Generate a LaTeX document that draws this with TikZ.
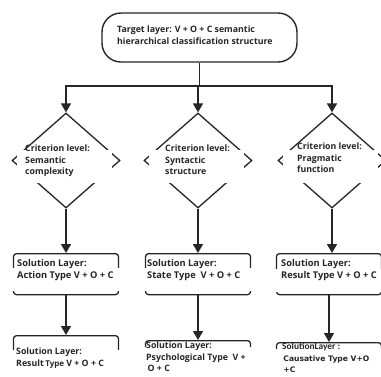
\documentclass[tikz,border=0pt]{standalone}
\usepackage{fontspec}
\newfontfamily\boxfont{Open Sans}
\newfontfamily\narrowfont{Carlito}
\newfontfamily\widefont{DejaVu Sans}
\usetikzlibrary{shapes.geometric, arrows.meta, positioning, calc}

\tikzset{
  flow/.style={line width=1.6pt, draw=black!85},
  flowarrow/.style={flow, -{Triangle[width=10pt,length=9pt]}},
  goalbox/.style={draw=black!85, line width=1.4pt, rounded corners=19pt,
    minimum width=195pt, minimum height=49pt, inner sep=0pt},
  critbox/.style={diamond, draw=black!85, line width=1.3pt,
    minimum width=108pt, minimum height=95pt, inner sep=0pt},
  solbox/.style={draw=black!85, line width=1.3pt, rounded corners=3pt,
    minimum width=105pt, minimum height=41pt, inner sep=0pt},
  whitemask/.style={fill=white, inner sep=0pt},
  boxtext/.style={align=left, inner sep=0pt, anchor=north west},
  soltext/.style={boxtext, font=\boxfont\bfseries\fontsize{9.3}{12}\selectfont}
}

\begin{document}
\begin{tikzpicture}[x=1pt, y=-1pt,
    font=\boxfont\bfseries\fontsize{8.8}{11.5}\selectfont, color=black!85]
  \clip (0,0) rectangle (381,376);
  \fill[white] (0,0) rectangle (381,376);

  % target layer
  \node[goalbox] (goal) at (199.5,37.5) {};
  \node[boxtext] (goaltext) at (117,26)
    {Target layer: V + O + C semantic\\hierarchical classification structure};

  % criterion level
  \node[critbox] (crit1) at (66,160.5) {};
  \node[critbox] (crit2) at (198,160.5) {};
  \node[critbox] (crit3) at (332,160.5) {};
  \node[whitemask, minimum width=95pt, minimum height=33pt] (mask1) at (64.5,166.5) {};
  \node[whitemask, minimum width=95pt, minimum height=33pt] (mask2) at (196.5,166.5) {};
  \node[whitemask, minimum width=95pt, minimum height=33pt] (mask3) at (330.5,166.5) {};
  \node[boxtext] (crittext1) at (25,145) {Criterion level:\\Semantic\\complexity};
  \node[boxtext] (crittext2) at (165,145) {Criterion level:\\Syntactic\\structure};
  \node[boxtext] (crittext3) at (297,143) {Criterion level:\\Pragmatic\\function};

  % solution layer, first row
  \node[solbox, anchor=north] (sol1) at (66,253) {};
  \node[solbox, anchor=north] (sol2) at (198,253) {};
  \node[solbox, anchor=north] (sol3) at (329,253) {};
  \node[whitemask, minimum width=111pt, minimum height=23pt, anchor=north] (solmask1) at (66,268) {};
  \node[whitemask, minimum width=111pt, minimum height=23pt, anchor=north] (solmask2) at (198,268) {};
  \node[whitemask, minimum width=111pt, minimum height=23pt, anchor=north] (solmask3) at (329,269) {};
  \node[soltext] (soltext1) at (17,259) {Solution Layer:\\Action Type V + O + C};
  \node[soltext] (soltext2) at (147,259) {Solution Layer:\\State Type\ \ V + O + C};
  \node[soltext] (soltext3) at (281,259) {Solution Layer:\\Result Type V + O + C};

  % solution layer, second row
  \node[solbox, anchor=north] (sol4) at (66,335) {};
  \node[solbox, anchor=north] (sol5) at (198,340) {};
  \node[solbox, anchor=north] (sol6) at (329,342) {};
  \node[whitemask, minimum width=111pt, minimum height=30pt, anchor=north] (solmask4) at (66,350) {};
  \node[whitemask, minimum width=111pt, minimum height=30pt, anchor=north] (solmask5) at (198,347) {};
  \node[whitemask, minimum width=111pt, minimum height=30pt, anchor=north] (solmask6) at (329,349) {};
  \node[boxtext] (soltext4) at (16,348) {Solution Layer:\\Result\,{\fontsize{8}{11.5}\selectfont Type} V + O + C};
  \node[boxtext] (soltext5) at (146,342) {Solution Layer:\\Psychological Type\ \ V +\\\,O + C};
  \node[boxtext, font=\widefont\bfseries\fontsize{7.6}{11.5}\selectfont] (soltext6) at (282,343)
    {{\narrowfont\fontsize{9.4}{11.5}\selectfont SolutionLayer :}\\\,Causative Type V+O\\\,+C};

  % connectors
  \draw[flow] (goal.south) -- ++(0,23) coordinate (split);
  \draw[flowarrow] (split) -| (crit1.north);
  \draw[flowarrow] (split) -| (crit3.north);
  \draw[flowarrow] (split) -- (split -| crit2.north) -- (crit2.north);
  \draw[flowarrow] (crit1.south) -- (sol1.north);
  \draw[flowarrow] (crit2.south) -- (sol2.north);
  \draw[flowarrow] (crit3.south) -- (crit3.south |- sol3.north);
  \draw[flowarrow] (sol1.south) -- (sol4.north);
  \draw[flowarrow] (sol2.south) -- (sol5.north);
  \draw[flowarrow] (sol3.south) -- (sol6.north);
\end{tikzpicture}
\end{document}
